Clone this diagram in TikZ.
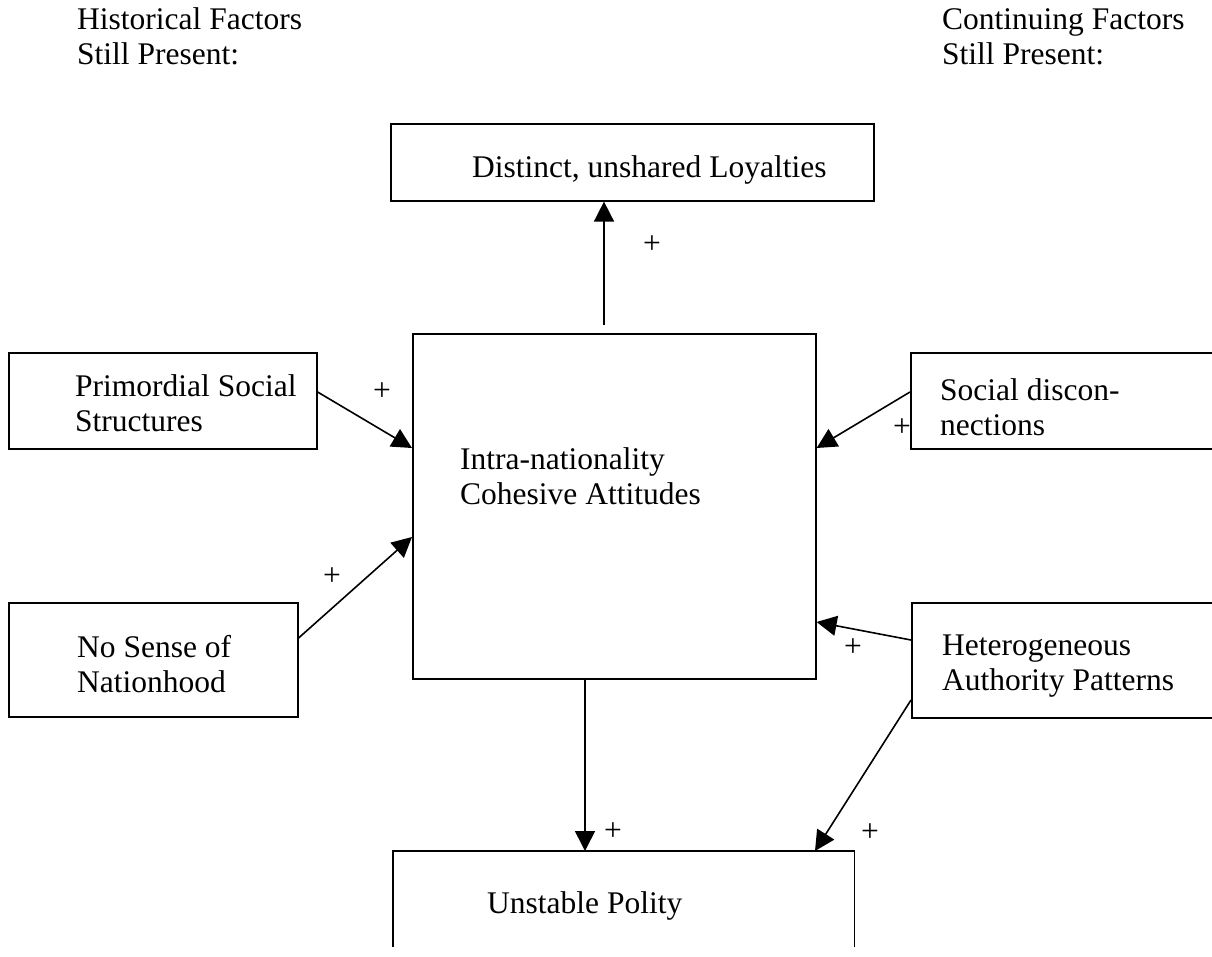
\documentclass[tikz,border=0pt]{standalone}
\usepackage{fontspec}
\setmainfont{Liberation Serif}
\usetikzlibrary{arrows.meta}
\begin{document}
\begin{tikzpicture}[x=1pt,y=-1pt,
  box/.style={draw, line width=1.6pt, rectangle, inner sep=0pt, anchor=north west},
  lbl/.style={font=\fontsize{31.5}{35}\selectfont, anchor=base west, inner sep=0pt, align=left},
  plus/.style={font=\fontsize{31.5}{35}\selectfont, inner sep=0pt},
  arr/.style={line width=1.6pt, -{Triangle[length=20pt,width=20pt]}},
  edge/.style={line width=1.6pt}]
\clip (0,0) rectangle (1212,957);
\fill[white] (0,0) rectangle (1212,957);

% column headings (base anchor = baseline of the last line)
\node[lbl] (hist) at (77,65) {Historical Factors\\Still Present:};
\node[lbl] (cont) at (942,65) {Continuing Factors\\Still Present:};

% boxes
\node[box, minimum width=483pt, minimum height=77pt] (loyal) at (390,123) {};
\node[box, minimum width=403pt, minimum height=345pt] (core) at (412,333) {};
\node[box, minimum width=308pt, minimum height=96pt] (prim) at (8,352) {};
\node[box, minimum width=289pt, minimum height=114pt] (nosense) at (8,602) {};
\node[box, minimum width=330pt, minimum height=96pt] (social) at (910,352) {};
\node[box, minimum width=330pt, minimum height=115pt] (hetero) at (911,602) {};
\node[box, draw=none, minimum width=460pt, minimum height=120pt] (polity) at (393,851) {};
\draw[edge] (polity.north west |- 0,947) -- (polity.north west)
  -- (polity.north east) -- (polity.north east |- 0,947);

% box texts
\node[lbl] (loyaltxt) at (472,178) {Distinct, unshared Loyalties};
\node[lbl] (coretxt) at (460,504) {Intra-nationality\\Cohesive Attitudes};
\node[lbl] (primtxt) at (75,431) {Primordial Social\\Structures};
\node[lbl] (nosensetxt) at (77,692) {No Sense of\\Nationhood};
\node[lbl] (socialtxt) at (940,435) {Social discon-\\nections};
\node[lbl] (heterotxt) at (942,690) {Heterogeneous\\Authority Patterns};
\node[lbl] (politytxt) at (487,913) {Unstable Polity};

% connectors
\coordinate (up) at (604,325);
\draw[arr] (up) -- (up |- loyal.south);
\draw[arr] (prim.east |- 0,392) -- (core.west |- 0,448);
\draw[arr] (nosense.east |- 0,638) -- (core.west |- 0,537);
\draw[arr] (social.west |- 0,392) -- (core.east |- 0,448);
\draw[arr] (hetero.west |- 0,640) -- (core.east |- 0,622);
\draw[arr] (hetero.west |- 0,700) -- (polity.north -| 815,0);
\draw[arr] (core.south -| 585,0) -- (polity.north -| 585,0);

% signs
\node[plus] (p1) at (652,245) {+};
\node[plus] (p2) at (382,392) {+};
\node[plus] (p3) at (332,577) {+};
\node[plus] (p4) at (902,428) {+};
\node[plus] (p5) at (853,648) {+};
\node[plus] (p6) at (613,832) {+};
\node[plus] (p7) at (870,833) {+};
\end{tikzpicture}
\end{document}
